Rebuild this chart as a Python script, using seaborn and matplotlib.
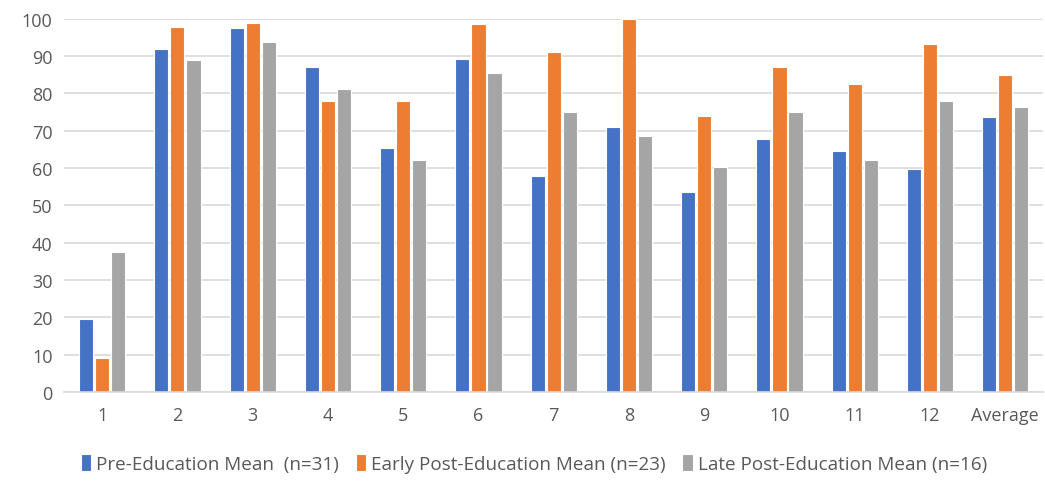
import pandas as pd
import matplotlib.pyplot as plt
import seaborn as sns

# Chart values
categories = ['1', '2', '3', '4', '5', '6', '7', '8', '9', '10', '11', '12', 'Average']
pre_mean = [19.5, 92.0, 97.5, 87.0, 65.5, 89.3, 58.0, 71.0, 53.5, 67.7, 64.5, 59.7, 73.7]
early_mean = [9.0, 97.7, 99.0, 78.0, 78.0, 98.5, 91.0, 100.0, 74.0, 87.0, 82.5, 93.3, 85.0]
late_mean = [37.5, 89.0, 93.7, 81.3, 62.2, 85.5, 75.0, 68.5, 60.3, 75.0, 62.2, 78.0, 76.3]
series_names = ['Pre-Education Mean  (n=31)',
                'Early Post-Education Mean (n=23)',
                'Late Post-Education Mean (n=16)']
colors = ['#4472C4', '#ED7D31', '#A5A5A5']

# Build long-form table for seaborn
rows = []
for name, vals in zip(series_names, [pre_mean, early_mean, late_mean]):
    for cat, v in zip(categories, vals):
        rows.append({'Item': cat, 'Score': v, 'Group': name})
df = pd.DataFrame(rows)

sns.set_style('white')
plt.rcParams['font.family'] = ['Open Sans', 'DejaVu Sans']

fig = plt.figure(figsize=(10.45, 4.85), dpi=100)
ax = fig.add_axes([0.061, 0.19, 0.937, 0.769])

sns.barplot(data=df, x='Item', y='Score', hue='Group', order=categories,
            hue_order=series_names, palette=colors, saturation=1,
            width=0.64, gap=0.12, edgecolor='white', linewidth=0.8, ax=ax)

ax.set_ylim(0, 100)
ax.set_xlim(-0.51, 12.5)
ax.set_yticks(range(0, 101, 10))
ax.yaxis.grid(True, color='#D9D9D9', linewidth=1.2)
ax.set_axisbelow(True)
for side in ['top', 'right', 'left']:
    ax.spines[side].set_visible(False)
ax.spines['bottom'].set_color('#D9D9D9')
ax.spines['bottom'].set_linewidth(1.2)
ax.tick_params(axis='both', length=0, labelsize=13, labelcolor='#595959')
ax.tick_params(axis='x', pad=10)
ax.tick_params(axis='y', pad=8)
ax.set_xlabel('')
ax.set_ylabel('')

ax.legend(loc='upper center', bbox_to_anchor=(0.48, -0.12), ncol=3, frameon=False,
          fontsize=13.6, handlelength=0.55, handleheight=1.0, handletextpad=0.25,
          columnspacing=0.9, labelcolor='#595959')

fig.savefig('out.png', dpi=100)
